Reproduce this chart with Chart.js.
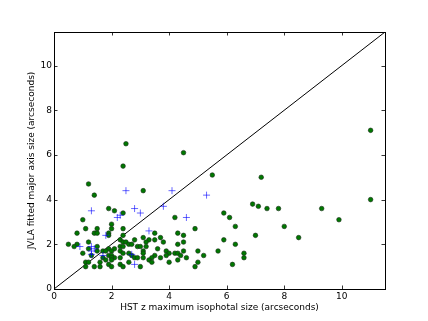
<!DOCTYPE html>
<html>
<head>
<meta charset="utf-8">
<script src="https://cdn.jsdelivr.net/npm/chart.js@4.4.0/dist/chart.umd.min.js"></script>
<style>
  body { margin: 0; background: white; }
  canvas { display: block; }
</style>
</head>
<body>
<canvas id="Sizes" width="428" height="321"></canvas>
<script>
// green dots: galaxies with size measured on both
var greenX = [11.0, 11.0, 2.5, 4.5, 2.4, 5.5, 7.2, 1.2, 1.4, 3.1, 6.9, 7.1, 7.4, 7.8, 9.3, 1.9, 2.1, 2.4, 5.9, 6.1,
    4.2, 1.0, 9.9, 2.0, 8.0, 6.3, 1.1, 1.5, 2.0, 2.4, 4.9, 0.8, 1.4, 1.5, 1.9, 4.3, 3.5, 1.9, 2.4, 4.5,
    7.0, 8.5, 3.1, 3.7, 2.3, 2.8, 3.3, 3.5, 5.9, 1.2, 2.4, 2.5, 3.2, 3.8, 4.5, 0.5, 0.8, 2.6, 2.7, 4.3,
    6.3, 0.7, 1.5, 2.3, 2.4, 2.9, 3.0, 3.2, 1.2, 1.9, 2.1, 3.6, 1.5, 1.7, 1.8, 2.0, 2.3, 3.1, 3.9, 4.5,
    5.0, 5.7, 1.0, 2.4, 2.6, 3.1, 4.0, 4.2, 4.3, 6.6, 1.3, 1.9, 2.0, 2.7, 3.5, 3.9, 4.4, 5.2, 1.7, 2.1,
    2.0, 2.3, 2.8, 2.9, 3.1, 3.4, 3.7, 4.6, 6.6, 1.8, 2.0, 3.3, 4.3, 1.1, 1.2, 1.6, 2.6, 3.4, 4.0, 5.0,
    1.9, 2.3, 6.2, 1.1, 1.4, 1.6, 2.0, 2.4, 3.0, 4.9]
var greenY = [7.1, 4.0, 6.5, 6.1, 5.5, 5.1, 5.0, 4.7, 4.2, 4.4, 3.8, 3.7, 3.6, 3.6, 3.6, 3.6, 3.5, 3.4, 3.4, 3.2,
    3.2, 3.1, 3.1, 2.9, 2.8, 2.8, 2.7, 2.7, 2.7, 2.7, 2.7, 2.5, 2.5, 2.5, 2.5, 2.5, 2.5, 2.4, 2.4, 2.4,
    2.4, 2.3, 2.3, 2.3, 2.2, 2.2, 2.2, 2.2, 2.2, 2.1, 2.1, 2.1, 2.1, 2.1, 2.1, 2.0, 2.0, 2.0, 2.0, 2.0,
    2.0, 1.9, 1.9, 1.9, 1.9, 1.9, 1.9, 1.9, 1.8, 1.8, 1.8, 1.8, 1.7, 1.7, 1.7, 1.7, 1.7, 1.7, 1.7, 1.7,
    1.7, 1.7, 1.6, 1.6, 1.6, 1.6, 1.6, 1.6, 1.6, 1.6, 1.5, 1.5, 1.5, 1.5, 1.5, 1.5, 1.5, 1.5, 1.4, 1.4,
    1.4, 1.4, 1.4, 1.4, 1.4, 1.4, 1.4, 1.4, 1.4, 1.3, 1.3, 1.3, 1.3, 1.2, 1.2, 1.2, 1.2, 1.2, 1.2, 1.2,
    1.1, 1.1, 1.1, 1.0, 1.0, 1.0, 1.0, 1.0, 1.0, 1.0]

// blue crosses
var blueX = [2.5, 4.1, 5.3, 3.8, 2.8, 1.3, 3.0, 2.3, 2.2, 4.6, 3.3, 1.8, 0.9, 1.3, 1.4, 1.3, 1.3, 1.7, 2.7, 2.8]
var blueY = [4.4, 4.4, 4.2, 3.7, 3.6, 3.5, 3.4, 3.3, 3.2, 3.2, 2.6, 2.4, 1.9, 1.9, 1.8, 1.7, 1.55, 1.5, 1.55, 1.1]

var lineX = [0, 11.5]
var lineY = [0, 11.5]

var xTicks = [0, 2, 4, 6, 8, 10]
var yTicks = [0, 2, 4, 6, 8, 10]

function points(xs, ys) {
    var out = []
    for (var i = 0; i < xs.length; i++) {
        out.push({ x: xs[i], y: ys[i] })
    }
    return out
}

// matplotlib style frame with ticks pointing inwards on all four sides
var frame = {
    id: 'frame',
    afterDatasetsDraw: function (chart) {
        var ctx = chart.ctx
        var a = chart.chartArea
        var xs = chart.scales.x
        var ys = chart.scales.y
        var len = 3.5
        ctx.save()
        ctx.strokeStyle = '#000'
        ctx.lineWidth = 0.8
        ctx.beginPath()
        xs.ticks.forEach(function (t) {
            var px = Math.round(xs.getPixelForValue(t.value)) + 0.5
            ctx.moveTo(px, a.bottom); ctx.lineTo(px, a.bottom - len)
            ctx.moveTo(px, a.top); ctx.lineTo(px, a.top + len)
        })
        ys.ticks.forEach(function (t) {
            var py = Math.round(ys.getPixelForValue(t.value)) + 0.5
            ctx.moveTo(a.left, py); ctx.lineTo(a.left + len, py)
            ctx.moveTo(a.right, py); ctx.lineTo(a.right - len, py)
        })
        ctx.stroke()
        ctx.lineWidth = 1
        ctx.strokeRect(Math.round(a.left) + 0.5, Math.round(a.top) + 0.5,
            Math.round(a.right - a.left), Math.round(a.bottom - a.top))
        ctx.restore()
    }
}

var font = { family: 'DejaVu Sans', size: 9 }

var ctx = document.getElementById('Sizes').getContext('2d')
var myChart = new Chart(ctx, {
    type: 'scatter',
    data: {
        datasets: [{
            data: points(blueX, blueY),
            pointStyle: 'cross',
            pointRadius: 3.5,
            borderColor: 'rgba(0, 0, 255, 0.6)',
            borderWidth: 1,
            order: 0
        }, {
            data: points(greenX, greenY),
            pointStyle: 'circle',
            pointRadius: 2.3,
            backgroundColor: '#007800',
            borderColor: '#1a2a1a',
            borderWidth: 0.6,
            order: 1
        }, {
            type: 'line',
            data: points(lineX, lineY),
            borderColor: '#000',
            borderWidth: 1,
            pointRadius: 0,
            fill: false,
            order: 2
        }]
    },
    options: {
        responsive: false,
        animation: false,
        layout: { padding: { top: 32, right: 43, left: 0, bottom: 0 } },
        plugins: {
            legend: { display: false },
            tooltip: { enabled: false }
        },
        scales: {
            x: {
                type: 'linear',
                min: 0,
                max: 11.5,
                afterBuildTicks: function (scale) {
                    scale.ticks = xTicks.map(function (v) { return { value: v } })
                },
                afterFit: function (scale) { scale.height = 32 },
                grid: { display: false, drawTicks: false },
                border: { display: false },
                ticks: { color: '#000', font: font, padding: 2, maxRotation: 0 },
                title: {
                    display: true,
                    text: 'HST z maximum isophotal size (arcseconds)',
                    color: '#000',
                    font: font,
                    padding: { top: 0, bottom: 8 }
                }
            },
            y: {
                type: 'linear',
                min: 0,
                max: 11.5,
                afterBuildTicks: function (scale) {
                    scale.ticks = yTicks.map(function (v) { return { value: v } })
                },
                afterFit: function (scale) { scale.width = 54 },
                grid: { display: false, drawTicks: false },
                border: { display: false },
                ticks: { color: '#000', font: font, padding: 2 },
                title: {
                    display: true,
                    text: 'JVLA fitted major axis size (arcseconds)',
                    color: '#000',
                    font: font,
                    padding: { top: 26, bottom: 0 }
                }
            }
        }
    },
    plugins: [frame]
})
</script>
</body>
</html>
